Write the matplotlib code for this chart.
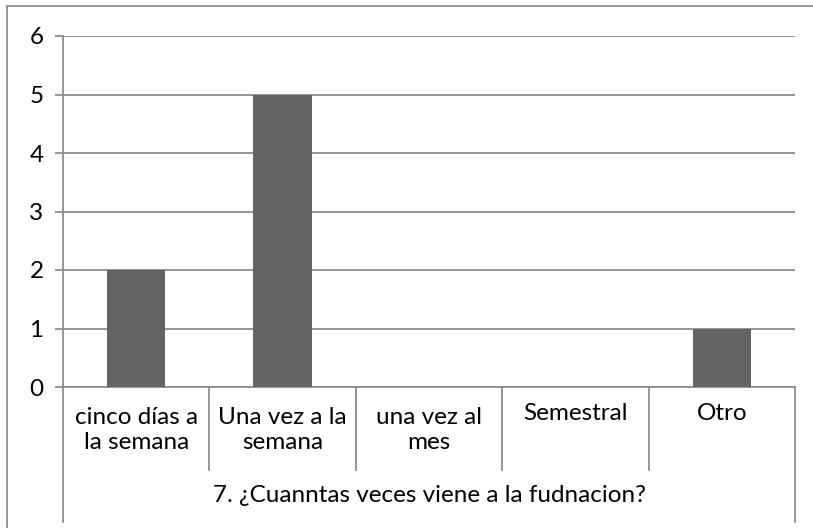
import matplotlib
matplotlib.use('Agg')
import matplotlib.pyplot as plt
import matplotlib.transforms as mtransforms
from matplotlib.lines import Line2D

categories = ['cinco días a\nla semana', 'Una vez a la\nsemana', 'una vez al\nmes', 'Semestral', 'Otro']
values = [2, 5, 0, 0, 1]
group_label = '7. ¿Cuanntas veces viene a la fudnacion?'

W, H = 813, 529
plt.rcParams['font.family'] = ['Lato', 'DejaVu Sans']
line_c = '#8c8c8c'
bar_c = '#646464'
fs = 17.5

fig = plt.figure(figsize=(W / 100, H / 100), dpi=100)

# plot area in pixels
x0, x1, ytop, ybot = 63, 795, 36, 387
ax = fig.add_axes([x0 / W, (H - ybot) / H, (x1 - x0) / W, (ybot - ytop) / H])

xs = range(len(categories))
ax.bar(xs, values, width=0.4, color=bar_c, zorder=3)
ax.set_xlim(-0.5, len(categories) - 0.5)
ax.set_ylim(0, 6)
ax.set_yticks(range(0, 7))
ax.yaxis.grid(True, color=line_c, linewidth=1.3)
ax.set_axisbelow(True)
for s in ['top', 'right']:
    ax.spines[s].set_visible(False)
for s in ['left', 'bottom']:
    ax.spines[s].set_color(line_c)
    ax.spines[s].set_linewidth(1.3)
ax.tick_params(axis='y', direction='out', length=6, width=1.3, color=line_c,
               labelsize=fs, pad=8)
ax.set_xticks([])

# multi-level category axis
ph = ybot - ytop
trans = mtransforms.blended_transform_factory(ax.transData, ax.transAxes)
inner = -(470 - ybot) / ph
outer = -(522 - ybot) / ph
for i in range(len(categories) + 1):
    xb = i - 0.5
    y_end = outer if i in (0, len(categories)) else inner
    ax.add_line(Line2D([xb, xb], [0, y_end], transform=trans, color=line_c,
                       linewidth=1.3, clip_on=False))
for i, lab in enumerate(categories):
    ypix = 430 if '\n' in lab else 413
    ax.text(i, -(ypix - ybot) / ph, lab, transform=trans, ha='center', va='center',
            fontsize=fs, linespacing=1.2, multialignment='center')
ax.text((len(categories) - 1) / 2, -(495 - ybot) / ph, group_label, transform=trans,
        ha='center', va='center', fontsize=fs)

# chart border (partially cropped)
fig.add_artist(Line2D([7 / W, 7 / W, 1.0], [(H - 527) / H, (H - 6) / H, (H - 6) / H],
                      transform=fig.transFigure, color=line_c, linewidth=1.3))

fig.savefig('out.png', dpi=100)
